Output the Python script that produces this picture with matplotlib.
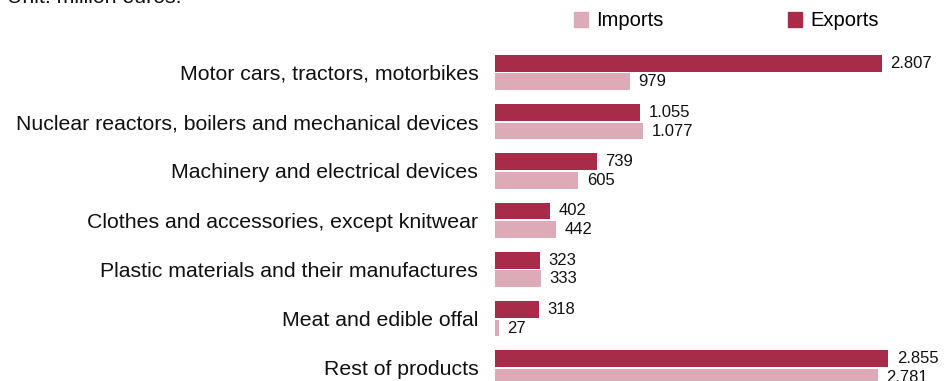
import matplotlib
matplotlib.use("Agg")
import matplotlib.pyplot as plt
from matplotlib.patches import Patch
import numpy as np

plt.rcParams['font.family'] = ['Liberation Sans', 'DejaVu Sans']

categories = [
    "Motor cars, tractors, motorbikes",
    "Nuclear reactors, boilers and mechanical devices",
    "Machinery and electrical devices",
    "Clothes and accessories, except knitwear",
    "Plastic materials and their manufactures",
    "Meat and edible offal",
    "Rest of products",
]
exports = [2807, 1055, 739, 402, 323, 318, 2855]
imports = [979, 1077, 605, 442, 333, 27, 2781]

export_color = "#A92B4A"
import_color = "#DDABB7"

W, H = 944, 381
fig = plt.figure(figsize=(W / 100, H / 100), dpi=100)
ax = fig.add_axes([495 / W, 0, 449 / W, 1])

y = np.arange(len(categories))
h = 0.34
off = 0.19
bars_e = ax.barh(y - off, exports, height=h, color=export_color)
bars_i = ax.barh(y + off, imports, height=h, color=import_color)

def fmt(v):
    return f"{v:,}".replace(",", ".")

for bars, vals in ((bars_e, exports), (bars_i, imports)):
    ax.bar_label(bars, labels=[fmt(v) for v in vals], padding=6,
                 fontsize=12, color="#111111")

ax.set_xlim(0, 449 / 0.1378)
ax.set_ylim(6.264, -1.472)
ax.set_yticks(y)
ax.set_yticklabels(categories, fontsize=15.3, color="#111111")
ax.tick_params(axis="y", length=0, pad=12)
ax.set_xticks([])
for s in ax.spines.values():
    s.set_visible(False)

handles = [Patch(color=import_color, label="Imports"),
           Patch(color=export_color, label="Exports")]
fig.legend(handles=handles, loc="center left",
           bbox_to_anchor=(574 / W, 1 - 21 / H), ncol=2, frameon=False,
           fontsize=14.5, handlelength=0.7, handleheight=0.7,
           handletextpad=0.4, columnspacing=6.2, borderpad=0,
           borderaxespad=0)

fig.text(7 / W, 1 - 3 / H, "Unit: million euros.", fontsize=15.3,
         va="baseline", ha="left", color="#111111")

fig.savefig("out.png", dpi=100)
